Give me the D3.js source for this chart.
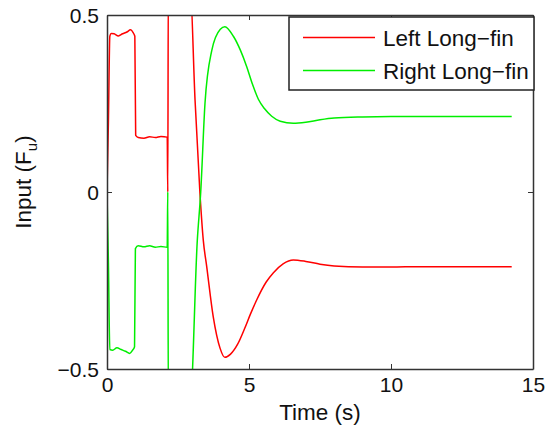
<!DOCTYPE html>
<html>
<head>
<meta charset="utf-8">
<script src="https://cdn.jsdelivr.net/npm/d3@7"></script>
<style>
  body { margin: 0; background: #fff; }
  svg text { font-family: "Liberation Sans", Arial, sans-serif; fill: #111; }
</style>
</head>
<body>
<div id="chart"></div>
<script>
// series: [time (s), input]
const leftFin = [
  [0, 0], [0.05, 0.2], [0.1, 0.44], [0.15, 0.448], [0.25, 0.447], [0.4, 0.441],
  [0.55, 0.447], [0.7, 0.452], [0.83, 0.458], [0.92, 0.45], [0.98, 0.44],
  [1.01, 0.16], [1.1, 0.154], [1.3, 0.152], [1.5, 0.156], [1.7, 0.154],
  [1.9, 0.157], [2.12, 0.155], [2.14, 0.0], [2.16, 0.6], [2.915, 0.6],
  [3.10, 0.26], [3.27, 0.0], [3.39, -0.136], [3.51, -0.21], [3.74, -0.352],
  [3.98, -0.441], [4.15, -0.467], [4.35, -0.458], [4.6, -0.43], [4.85, -0.385],
  [5.05, -0.345], [5.27, -0.305], [5.6, -0.255], [5.86, -0.228], [6.2, -0.203],
  [6.56, -0.192], [7.0, -0.196], [7.5, -0.204], [8.0, -0.209], [9.0, -0.212],
  [10, -0.212], [11, -0.211], [12, -0.211], [13, -0.211], [14.25, -0.211]
];
const rightFin = [
  [0, 0], [0.05, -0.2], [0.1, -0.445], [0.2, -0.447], [0.35, -0.44], [0.5, -0.445],
  [0.65, -0.45], [0.8, -0.456], [0.9, -0.447], [0.97, -0.437], [1.0, -0.16],
  [1.1, -0.152], [1.3, -0.155], [1.5, -0.152], [1.7, -0.156], [1.9, -0.154],
  [2.12, -0.156], [2.14, 0.0], [2.16, -0.6], [2.925, -0.6], [3.18, -0.136],
  [3.30, 0.0], [3.45, 0.25], [3.69, 0.40], [3.99, 0.46], [4.15, 0.467],
  [4.45, 0.44], [4.7, 0.4], [4.92, 0.354], [5.12, 0.305], [5.33, 0.262],
  [5.55, 0.235], [5.8, 0.214], [6.1, 0.2], [6.56, 0.194], [7.0, 0.197],
  [7.5, 0.204], [8.0, 0.209], [9.0, 0.212], [10, 0.213], [11, 0.213],
  [12, 0.213], [13, 0.213], [14.25, 0.213]
];
const seriesNames = ["Left Long\u2212fin", "Right Long\u2212fin"];
const seriesColors = ["#ff0000", "#00ee00"];
const xTicks = [0, 5, 10, 15];
const yTicks = [-0.5, 0, 0.5];

const width = 545, height = 431;
const margin = { top: 15, right: 12, bottom: 62, left: 107 };
const innerW = width - margin.left - margin.right;
const innerH = height - margin.top - margin.bottom;

const svg = d3.select("#chart").append("svg")
  .attr("width", width)
  .attr("height", height);

const x = d3.scaleLinear().domain([0, 15]).range([0, innerW]);
const y = d3.scaleLinear().domain([-0.5, 0.5]).range([innerH, 0]);

const g = svg.append("g")
  .attr("transform", `translate(${margin.left},${margin.top})`);

g.append("clipPath").attr("id", "clip")
  .append("rect").attr("width", innerW).attr("height", innerH);

const line = d3.line()
  .curve(d3.curveMonotoneX)
  .x(d => x(d[0])).y(d => y(d[1]));

[leftFin, rightFin].forEach((data, i) => {
  g.append("path")
    .datum(data)
    .attr("clip-path", "url(#clip)")
    .attr("fill", "none")
    .attr("stroke", seriesColors[i])
    .attr("stroke-width", 1.5)
    .attr("stroke-linejoin", "round")
    .attr("d", line);
});

// box + inward ticks, matlab style
const tickLen = 5;
const fmt = d => d < 0 ? "\u2212" + Math.abs(d) : String(d);

const axBottom = g.append("g").attr("transform", `translate(0,${innerH})`)
  .call(d3.axisBottom(x).tickValues(xTicks).tickSizeInner(-tickLen).tickSizeOuter(0).tickPadding(8).tickFormat(fmt));
const axTop = g.append("g")
  .call(d3.axisTop(x).tickValues(xTicks).tickSizeInner(-tickLen).tickSizeOuter(0).tickFormat(""));
const axLeft = g.append("g")
  .call(d3.axisLeft(y).tickValues(yTicks).tickSizeInner(-tickLen).tickSizeOuter(0).tickPadding(8).tickFormat(fmt));
const axRight = g.append("g").attr("transform", `translate(${innerW},0)`)
  .call(d3.axisRight(y).tickValues(yTicks).tickSizeInner(-tickLen).tickSizeOuter(0).tickFormat(""));

[axBottom, axTop, axLeft, axRight].forEach(a => {
  a.select(".domain").attr("stroke", "#333").attr("stroke-width", 1.5);
  a.selectAll(".tick line").attr("stroke", "#333");
  a.selectAll(".tick text").attr("font-size", 21).attr("fill", "#111")
    .attr("font-family", "Liberation Sans, Arial, sans-serif");
});
axBottom.selectAll(".tick text").attr("dy", "0.72em");
axLeft.selectAll(".tick text").attr("dy", "0.36em");

// axis titles
svg.append("text")
  .attr("x", margin.left + innerW / 2)
  .attr("y", 420)
  .attr("text-anchor", "middle")
  .attr("font-size", 22.5)
  .text("Time (s)");

const yl = svg.append("text")
  .attr("transform", "translate(31,182) rotate(-90)")
  .attr("text-anchor", "middle")
  .attr("font-size", 22.5);
yl.append("tspan").text("Input (F");
yl.append("tspan").attr("font-size", 15).attr("dy", 6).text("u");
yl.append("tspan").attr("dy", -6).text(")");

// legend
const lg = svg.append("g").attr("transform", "translate(289,17)");
lg.append("rect")
  .attr("width", 245).attr("height", 73)
  .attr("fill", "#fff").attr("stroke", "#222").attr("stroke-width", 1.5);
seriesNames.forEach((name, i) => {
  const yy = 20.5 + i * 33;
  lg.append("line")
    .attr("x1", 14).attr("x2", 86).attr("y1", yy).attr("y2", yy)
    .attr("stroke", seriesColors[i]).attr("stroke-width", 1.5);
  lg.append("text")
    .attr("x", 94).attr("y", yy).attr("dy", "0.36em")
    .attr("font-size", 22.5)
    .text(name);
});
</script>
</body>
</html>
